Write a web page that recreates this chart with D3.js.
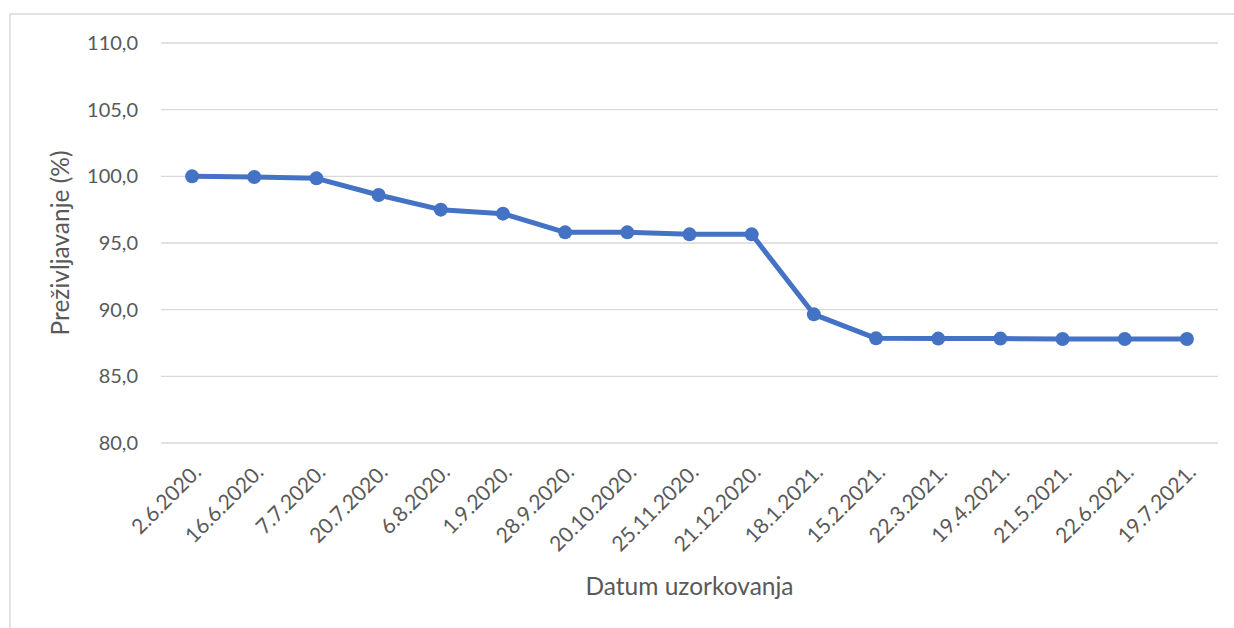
<!DOCTYPE html>
<html>
<head>
<meta charset="utf-8">
<script src="https://cdn.jsdelivr.net/npm/d3@7"></script>
<style>
    body { margin: 0; background: #fff; }
    text { font-family: Lato, "Noto Sans", sans-serif; fill: #595959; }
</style>
</head>
<body>
<svg id="chart"></svg>
<script>
const dates = ["2.6.2020.", "16.6.2020.", "7.7.2020.", "20.7.2020.", "6.8.2020.", "1.9.2020.",
    "28.9.2020.", "20.10.2020.", "25.11.2020.", "21.12.2020.", "18.1.2021.", "15.2.2021.",
    "22.3.2021.", "19.4.2021.", "21.5.2021.", "22.6.2021.", "19.7.2021."];
const survival = [100.0, 99.95, 99.85, 98.6, 97.5, 97.2, 95.8, 95.8, 95.65, 95.65, 89.65,
    87.85, 87.83, 87.83, 87.8, 87.8, 87.8];
const yTicks = [80, 85, 90, 95, 100, 105, 110];

const width = 1234;
const height = 628;
const margin = {top: 43, right: 16, bottom: 185, left: 161};

const svg = d3.select("#chart")
    .attr("width", width)
    .attr("height", height);

// chart frame (only top and left edge fall inside the picture)
svg.append("path")
    .attr("d", `M10,${height} V14 H${width}`)
    .attr("fill", "none")
    .attr("stroke", "#d9d9d9")
    .attr("stroke-width", 1.5);

const x = d3.scaleBand()
    .domain(dates)
    .range([margin.left, width - margin.right]);

const y = d3.scaleLinear()
    .domain([80, 110])
    .range([height - margin.bottom, margin.top]);

const fmt = d => d3.format(".1f")(d).replace(".", ",");

// gridlines
svg.append("g")
    .selectAll("line")
    .data(yTicks)
    .enter().append("line")
    .attr("x1", margin.left)
    .attr("x2", width - margin.right)
    .attr("y1", d => y(d))
    .attr("y2", d => y(d))
    .attr("stroke", "#d9d9d9")
    .attr("stroke-width", 1.3);

// y axis labels
svg.append("g")
    .selectAll("text")
    .data(yTicks)
    .enter().append("text")
    .attr("x", 138)
    .attr("y", d => y(d))
    .attr("dy", "0.35em")
    .attr("text-anchor", "end")
    .attr("font-size", "20px")
    .text(fmt);

// x axis labels
svg.append("g")
    .selectAll("text")
    .data(dates)
    .enter().append("text")
    .attr("transform", d => `translate(${x(d) + x.bandwidth() / 2}, 463) rotate(-45)`)
    .attr("text-anchor", "end")
    .attr("dy", "0.7em")
    .attr("font-size", "21px")
    .text(d => d);

// axis titles
svg.append("text")
    .attr("transform", `translate(69, ${(y(80) + y(110)) / 2}) rotate(-90)`)
    .attr("text-anchor", "middle")
    .attr("font-size", "24.5px")
    .text("Preživljavanje (%)");

svg.append("text")
    .attr("x", (margin.left + width - margin.right) / 2)
    .attr("y", 595)
    .attr("text-anchor", "middle")
    .attr("font-size", "24.5px")
    .text("Datum uzorkovanja");

// series
const line = d3.line()
    .x((d, i) => x(dates[i]) + x.bandwidth() / 2)
    .y(d => y(d));

svg.append("path")
    .datum(survival)
    .attr("d", line)
    .attr("fill", "none")
    .attr("stroke", "#4472c4")
    .attr("stroke-width", 5)
    .attr("stroke-linejoin", "round");

svg.append("g")
    .selectAll("circle")
    .data(survival)
    .enter().append("circle")
    .attr("cx", (d, i) => x(dates[i]) + x.bandwidth() / 2)
    .attr("cy", d => y(d))
    .attr("r", 7)
    .attr("fill", "#4472c4");
</script>
</body>
</html>
